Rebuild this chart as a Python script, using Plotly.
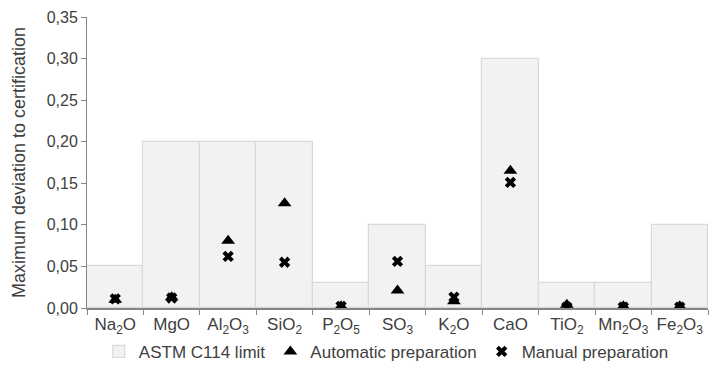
import plotly.graph_objects as go

categories = ["Na<sub>2</sub>O", "MgO", "Al<sub>2</sub>O<sub>3</sub>", "SiO<sub>2</sub>", "P<sub>2</sub>O<sub>5</sub>",
              "SO<sub>3</sub>", "K<sub>2</sub>O", "CaO", "TiO<sub>2</sub>", "Mn<sub>2</sub>O<sub>3</sub>", "Fe<sub>2</sub>O<sub>3</sub>"]
astm_limit = [0.05, 0.20, 0.20, 0.20, 0.03, 0.10, 0.05, 0.30, 0.03, 0.03, 0.10]
automatic = [0.010, 0.013, 0.081, 0.126, 0.002, 0.021, 0.008, 0.165, 0.004, 0.002, 0.002]
manual = [0.011, 0.012, 0.062, 0.055, 0.002, 0.056, 0.013, 0.151, 0.001, 0.001, 0.001]
y_ticks = [0, 0.05, 0.10, 0.15, 0.20, 0.25, 0.30, 0.35]

fig = go.Figure()
fig.add_trace(go.Bar(x=categories, y=astm_limit, name="ASTM C114 limit",
                     marker=dict(color="#f2f2f2", line=dict(color="#d9d9d9", width=1.2))))
fig.add_trace(go.Scatter(x=categories, y=automatic, mode="markers", name="Automatic preparation",
                         marker=dict(symbol="triangle-up", color="black", size=12)))
fig.add_trace(go.Scatter(x=categories, y=manual, mode="markers", name="Manual preparation",
                         marker=dict(symbol="x", color="black", size=10)))

font = "Liberation Sans, Arial, sans-serif"
fig.update_layout(
    width=715, height=365,
    margin=dict(l=87, r=7, t=17, b=57, autoexpand=False),
    paper_bgcolor="white", plot_bgcolor="white",
    separators=", ",
    bargap=0,
    font=dict(family=font, size=17, color="#404040"),
    showlegend=True,
    legend=dict(orientation="h", x=0.482, xanchor="center", yref="container", y=0.036, yanchor="middle",
                font=dict(size=17, color="#404040"), itemwidth=30, tracegroupgap=0),
    xaxis=dict(range=[-0.5, len(categories) - 0.5], showline=True, linecolor="#868686", linewidth=1.5,
               ticks="outside", tickson="boundaries", ticklen=5, tickcolor="#868686", showgrid=False,
               tickangle=0, automargin=False,
               tickfont=dict(size=17, color="#404040")),
    yaxis=dict(range=[0, 0.35], tickvals=y_ticks, tickformat=".2f", showline=True,
               linecolor="#868686", linewidth=1, ticks="outside", ticklen=5,
               tickcolor="#868686", showgrid=False, zeroline=False, automargin=False,
               title=dict(text="Maximum deviation to certification", font=dict(size=18, color="#404040"), standoff=16),
               tickfont=dict(size=16, color="#404040")),
)
fig.write_html("out.html")
